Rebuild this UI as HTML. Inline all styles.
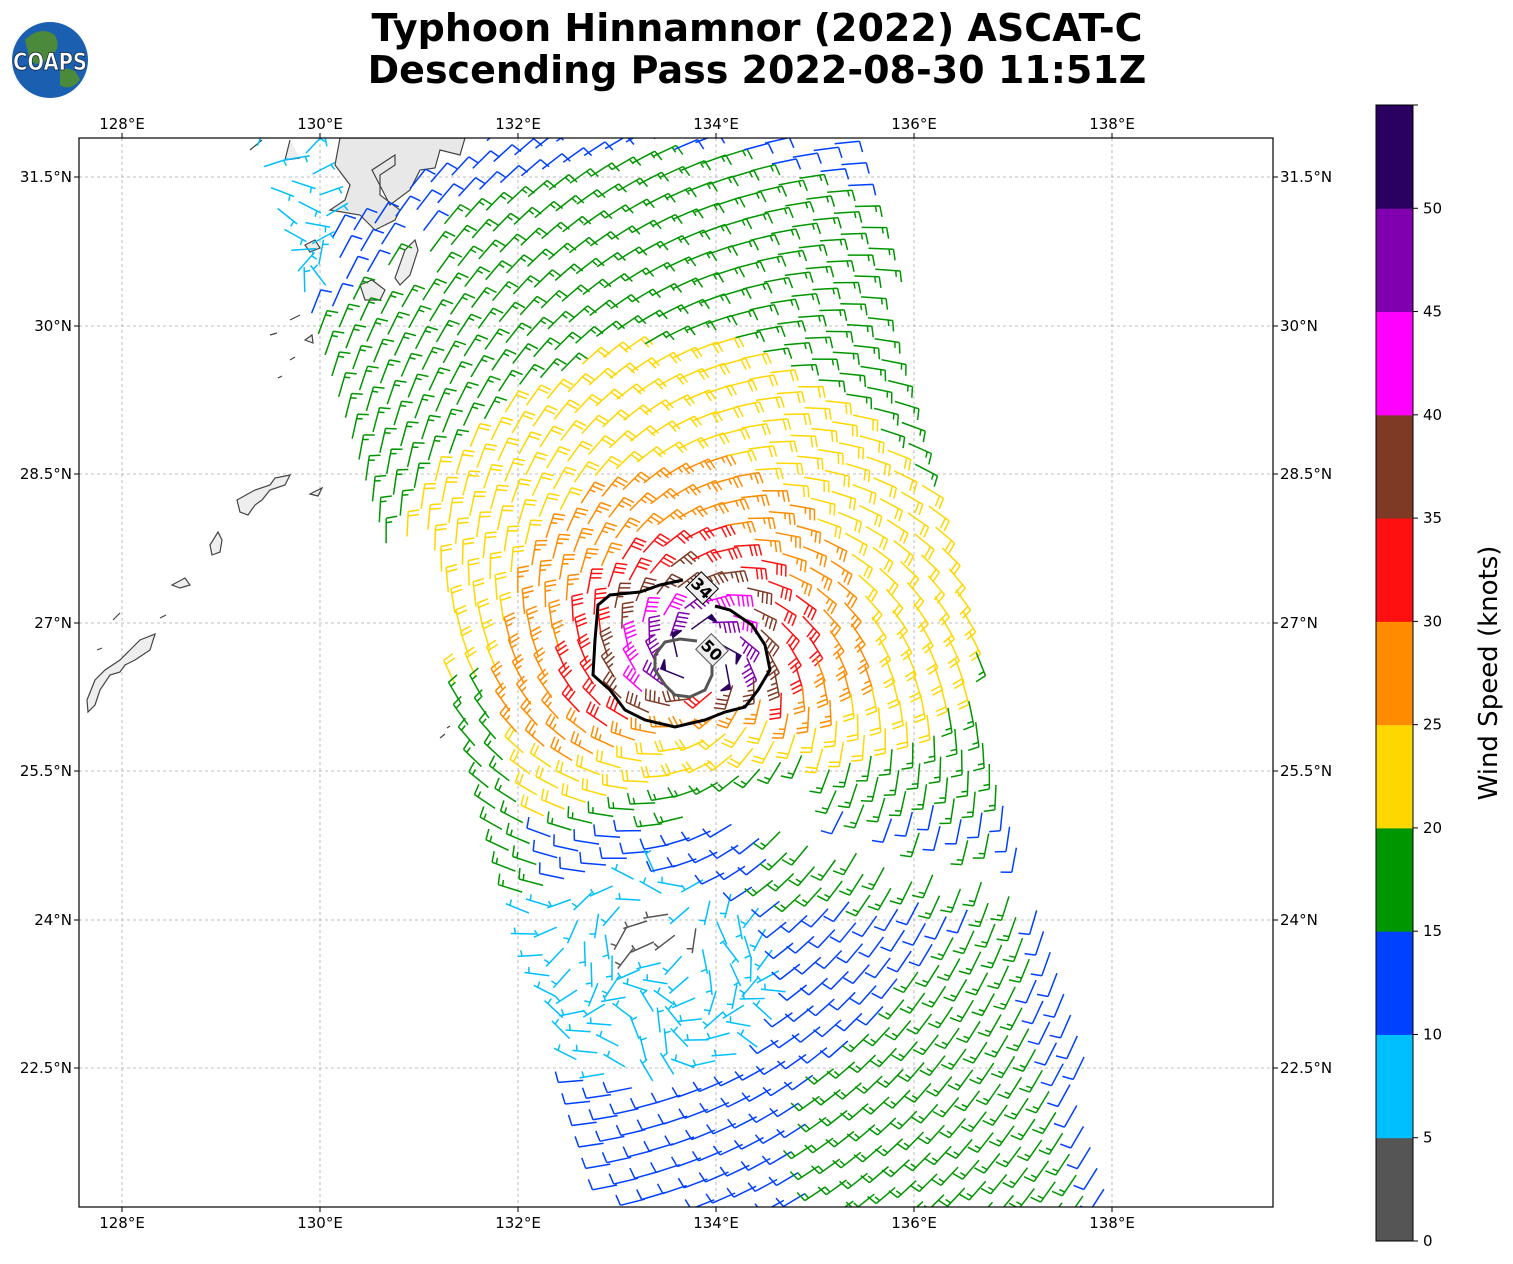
<!DOCTYPE html>
<html><head><meta charset="utf-8"><style>
body{margin:0;background:#fff;width:1513px;height:1264px;overflow:hidden;font-family:"DejaVu Sans",sans-serif}
svg{position:absolute;left:0;top:0}
</style></head><body>
<svg id="s" width="1513" height="1264" xmlns="http://www.w3.org/2000/svg">
<defs><clipPath id="c"><rect x="79" y="138" width="1194" height="1069"/></clipPath></defs>
<rect width="1513" height="1264" fill="#fff"/>
<text x="757" y="41" text-anchor="middle" font-size="38" font-weight="bold" font-family="DejaVu Sans, sans-serif">Typhoon Hinnamnor (2022) ASCAT-C</text>
<text x="757" y="83" text-anchor="middle" font-size="38" font-weight="bold" font-family="DejaVu Sans, sans-serif">Descending Pass 2022-08-30 11:51Z</text>
<circle cx="50" cy="60" r="38" fill="#1a5fb0"/>
<path d="M25,40 Q40,25 55,35 Q62,50 50,55 Q40,70 30,60 Z" fill="#4a8a3a"/>
<path d="M60,70 Q75,65 80,80 Q70,92 60,85 Z" fill="#4a8a3a"/>
<text x="50" y="70" text-anchor="middle" font-size="24" font-weight="bold" fill="#fff" stroke="#123" stroke-width="0.8" font-family="DejaVu Sans, sans-serif" textLength="74" lengthAdjust="spacingAndGlyphs">COAPS</text>
<g id="grid" stroke="#aaa" stroke-width="0.8" stroke-dasharray="3,3"></g>
<g id="land" clip-path="url(#c)" fill="none" stroke="#444" stroke-width="1.2"></g>
<g id="barbs" clip-path="url(#c)" fill="none" stroke-width="1.5"></g>
<g id="cont" clip-path="url(#c)"></g>
<rect x="79" y="138" width="1194" height="1069" fill="none" stroke="#000" stroke-width="1.2"/>
<g id="labels" font-size="15" font-family="DejaVu Sans, sans-serif"></g>
<g id="cbar"></g>
<text transform="translate(1497,673) rotate(-90)" text-anchor="middle" font-size="26" font-family="DejaVu Sans, sans-serif">Wind Speed (knots)</text>
</svg>
<script>
var NS="http://www.w3.org/2000/svg";
function el(p,t,a,txt){var e=document.createElementNS(NS,t);for(var k in a)e.setAttribute(k,a[k]);if(txt!=null)e.textContent=txt;document.getElementById(p).appendChild(e);return e;}
var lons=[[128,122],[130,320],[132,518],[134,716],[136,914],[138,1112]];
var lats=[["31.5°N",177],["30°N",326],["28.5°N",474],["27°N",623],["25.5°N",771],["24°N",920],["22.5°N",1068]];
lons.forEach(function(l){el("grid","line",{x1:l[1],y1:138,x2:l[1],y2:1207});
el("labels","text",{x:l[1],y:129,"text-anchor":"middle"},l[0]+"°E");
el("labels","text",{x:l[1],y:1228,"text-anchor":"middle"},l[0]+"°E");
el("labels","line",{x1:l[1],y1:133,x2:l[1],y2:138,stroke:"#000"});el("labels","line",{x1:l[1],y1:1207,x2:l[1],y2:1212,stroke:"#000"});});
lats.forEach(function(l){el("grid","line",{x1:79,y1:l[1],x2:1273,y2:l[1]});
el("labels","text",{x:72,y:l[1]+5,"text-anchor":"end"},l[0]);
el("labels","text",{x:1280,y:l[1]+5},l[0]);
el("labels","line",{x1:74,y1:l[1],x2:79,y2:l[1],stroke:"#000"});el("labels","line",{x1:1273,y1:l[1],x2:1278,y2:l[1],stroke:"#000"});});
var cols=["#555555","#00bfff","#0040ff","#009600","#ffd700","#ff8c00","#ff1010","#7f3a26","#ff00ff","#8000b0","#2a0060"];
var cTop=105,cBot=1241,ch=(cBot-cTop)/11;
for(var i=0;i<11;i++){el("cbar","rect",{x:1376,y:cBot-(i+1)*ch,width:37,height:ch+0.5,fill:cols[i]});}
el("cbar","rect",{x:1376,y:cTop,width:37,height:cBot-cTop,fill:"none",stroke:"#000"});
for(var i=0;i<=10;i++){var y=cBot-i*ch;el("cbar","line",{x1:1413,y1:y,x2:1418,y2:y,stroke:"#000"});
el("cbar","text",{x:1423,y:y+5,"font-size":15,"font-family":"DejaVu Sans, sans-serif"},String(i*5));}
el("cbar","line",{x1:1413,y1:cTop,x2:1418,y2:cTop,stroke:"#000"});
var land=["M250,150 L262,140 M290,140 L285,160 L300,158",
"M405,250 L415,240 L418,250 L410,275 L400,285 L395,278 Z","M360,285 L372,280 L385,290 L380,300 L365,300 Z","M305,245 L315,240 L320,248 L310,252 Z",
"M290,320 L300,315 Z","M270,335 L277,333 Z","M290,360 L295,357 Z","M278,378 L282,376 Z","M305,340 L312,335 L313,343 Z",
"M237,500 L255,490 L270,485 L275,478 L290,475 L285,485 L270,490 L262,500 L255,505 L248,515 L240,512 Z","M310,494 L322,488 L318,496 Z",
"M210,545 L218,532 L222,540 L220,552 L212,555 Z","M172,585 L185,578 L190,585 L180,588 Z","M113,620 L120,613 Z","M160,618 L166,615 Z",
"M140,640 L155,634 L150,650 L135,660 L125,665 L120,672 L110,675 L100,690 L95,705 L88,712 L87,700 L95,680 L105,670 L120,660 L130,650 Z","M97,650 L102,648 Z","M440,738 L445,734 Z","M447,728 L450,726 Z"];
el("land","path",{d:"M340,138 L335,165 L350,185 L345,200 L330,210 L360,215 L375,230 L395,220 L400,210 L380,195 L380,175 L395,165 L395,155 L372,170 L390,205 L410,190 L420,170 L435,168 L440,150 L460,155 L465,138 Z",fill:"#e8e8e8"});
land.forEach(function(d){el("land","path",{d:d,fill:"#eee"});});
var cx=700,cy=660;
function speed(x,y,u,umax){
 if(((x-665)/45)**2+((y-935)/22)**2<1) return 3;
 if(((x-645)/150)**2+((y-975)/110)**2<1) return 7;
 if(x<330&&y<300) return 7;
 if(y>690&&y<900&&u<258) return 17;
 if(y>830){
   var gb = y<900 ? 770 : Math.max(810, 960-(y-920)*0.85);
   if(x>gb && u<umax-28) return 17; return 12;}
 var dx=x-cx,dy=y-cy,r=Math.hypot(dx,dy)+0.01;
 var c=(dx*0.2+dy*0.98)/r;
 var f=(1+2.0*Math.pow(Math.max(0,c),3))*(1+0.15*Math.max(0,dx/r));
 var rp=r*f;
 var t=[[35,52],[55,47],[75,42],[100,37],[135,32],[200,27],[320,22],[510,17],[800,12]];
 for(var i=0;i<t.length;i++) if(rp<t[i][0]) return t[i][1];
 return 7;}
function inLand(x,y){return (x>330&&x<470&&y<215+(x<400?0:-40))||(x>355&&x<390&&y>278&&y<303)||(x>395&&x<420&&y>235&&y<290);}
var dvx=0.308,dvy=0.951,nx=0.951,ny=-0.308,sp=22;
var out=[];
for(var u=200;u<=770;u+=sp){for(var v=-200;v<=1500;v+=sp){
 var x=u*nx+v*dvx,y=u*ny+v*dvy;
 if(x<80||x>1272||y<140||y>1205)continue;
 var umax=765-0.055*y; if(u>umax)continue;
 if(y>555&&u<224-(y-600)*0.03)continue;
 if(inLand(x,y))continue;
 if(x>700&&Math.abs(y-(795+(x-700)*0.25))<15)continue;
 if(x>745&&x<830&&y>770&&y<815)continue;
 if(x<435&&y>555&&y<598)continue;
 var dx=x-cx,dy=y-cy,r=Math.hypot(dx,dy);
 if(r<22)continue;
 var s=speed(x,y,u,umax);
 var tx=dy/r,ty=-dx/r,ix=-dx/r,iy=-dy/r,a=0.35;
 var wx=Math.cos(a)*tx+Math.sin(a)*ix,wy=Math.cos(a)*ty+Math.sin(a)*iy;
 if(s<=7){var ang=Math.sin(x*0.05)*0.8+Math.cos(y*0.03);var w2x=wx*Math.cos(ang)-wy*Math.sin(ang),w2y=wx*Math.sin(ang)+wy*Math.cos(ang);wx=w2x;wy=w2y;}
 var L=25,sx=-wx,sy=-wy,ex=x+sx*L,ey=y+sy*L;
 var px=-sy,py=sx;
 var col=cols[Math.min(10,Math.floor(s/5))];
 var d="M"+x.toFixed(1)+","+y.toFixed(1)+"L"+ex.toFixed(1)+","+ey.toFixed(1);
 var k=Math.round(s/5)*5,pos=0,fill="";
 while(k>=50){var bx=ex-sx*pos,by=ey-sy*pos;d+="M"+bx.toFixed(1)+","+by.toFixed(1)+"l"+(px*10).toFixed(1)+","+(py*10).toFixed(1)+"L"+(bx-sx*5).toFixed(1)+","+(by-sy*5).toFixed(1)+"Z";fill=col;k-=50;pos+=6;}
 while(k>=10){var bx=ex-sx*pos,by=ey-sy*pos;d+="M"+bx.toFixed(1)+","+by.toFixed(1)+"l"+(px*11+sx*2).toFixed(1)+","+(py*11+sy*2).toFixed(1);k-=10;pos+=4.5;}
 if(k>=5){if(pos==0)pos=4.5;var bx=ex-sx*pos,by=ey-sy*pos;d+="M"+bx.toFixed(1)+","+by.toFixed(1)+"l"+(px*6+sx*1).toFixed(1)+","+(py*6+sy*1).toFixed(1);}
 out.push('<path d="'+d+'" stroke="'+col+'"'+(fill?' fill="'+fill+'"':'')+'/>');
}}
document.getElementById("barbs").innerHTML=out.join("");
el("cont","path",{d:"M683,580 L660,585 L640,592 L610,595 L598,605 L595,640 L593,675 L610,690 L625,710 L645,720 L675,727 L705,720 L725,712 L745,707 L758,690 L770,670 L765,645 L752,625 L730,610 L715,606",fill:"none",stroke:"#000","stroke-width":3});
el("cont","path",{d:"M697,641 L680,639 L665,642 L655,655 L655,670 L665,685 L675,695 L690,697 L705,690 L712,675 L712,660",fill:"none",stroke:"#555","stroke-width":3});
el("cont","rect",{x:-12,y:-11,width:24,height:22,fill:"#eee",stroke:"#000","stroke-width":1,transform:"translate(702,588) rotate(45)"});
el("cont","text",{x:0,y:6,"text-anchor":"middle","font-size":16,"font-weight":"bold",transform:"translate(702,588) rotate(45)","font-family":"DejaVu Sans, sans-serif"},"34");
el("cont","rect",{x:-12,y:-11,width:24,height:22,fill:"#eee",stroke:"#555","stroke-width":1,transform:"translate(712,650) rotate(45)"});
el("cont","text",{x:0,y:6,"text-anchor":"middle","font-size":16,"font-weight":"bold",transform:"translate(712,650) rotate(45)","font-family":"DejaVu Sans, sans-serif"},"50");
</script>
</body></html>
